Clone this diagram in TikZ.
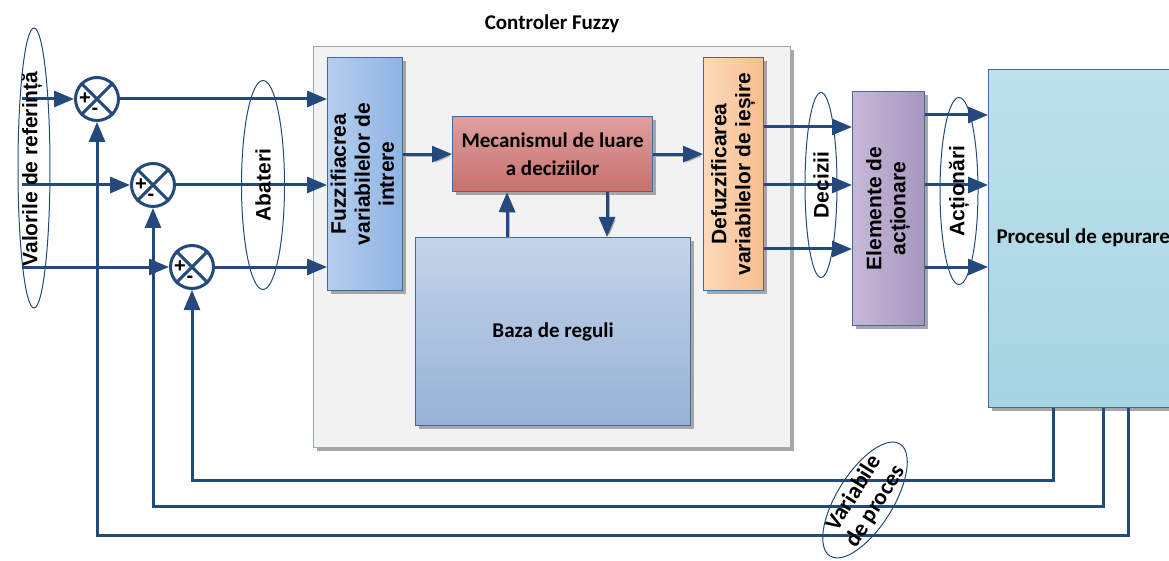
\documentclass[tikz,border=0pt]{standalone}
\usepackage{fontspec}
\setmainfont{Carlito}
\newfontfamily\vfont{Liberation Sans}
\usepackage{tikz}
\usetikzlibrary{arrows.meta,positioning,shapes.geometric,shadows}
\definecolor{fzline}{RGB}{36,73,125}
\definecolor{fzedge}{RGB}{70,105,155}
\definecolor{fzframe}{RGB}{150,170,195}
\definecolor{fzgray}{RGB}{242,242,242}
\definecolor{fuzA}{RGB}{181,206,238}
\definecolor{fuzB}{RGB}{142,180,227}
\definecolor{mecA}{RGB}{222,160,158}
\definecolor{mecB}{RGB}{200,112,110}
\definecolor{bazA}{RGB}{196,212,232}
\definecolor{bazB}{RGB}{150,177,214}
\definecolor{defA}{RGB}{252,217,186}
\definecolor{defB}{RGB}{249,190,142}
\definecolor{actA}{RGB}{198,185,216}
\definecolor{actB}{RGB}{166,150,190}
\definecolor{proA}{RGB}{190,226,235}
\definecolor{proB}{RGB}{165,212,226}
\newcommand{\uptext}[1]{\rotatebox{90}{\begin{tabular}{@{}c@{}}#1\end{tabular}}}

\begin{document}
\begin{tikzpicture}[x=1pt, y=-1pt,
  font=\fontsize{21}{25}\selectfont\bfseries,
  vtxt/.style={font=\fontsize{21}{24}\selectfont\vfont\bfseries},
  flow/.style={draw=fzline, line width=3pt, -{Triangle[length=20pt,width=16pt]}},
  inflow/.style={flow, preaction={draw=black!30, transform canvas={xshift=2pt,yshift=-2pt}}},
  wire/.style={draw=fzline, line width=3pt},
  sum/.style={circle, draw=fzline, line width=3pt, fill=white, minimum size=43pt, inner sep=0pt},
  sgn/.style={font=\fontsize{20}{20}\selectfont\vfont\bfseries, inner sep=0pt},
  blk/.style={draw=fzedge, line width=1.2pt, inner sep=0pt, anchor=north west,
    drop shadow={shadow xshift=3pt, shadow yshift=-3pt, fill=black!35, opacity=1}},
  grp/.style={ellipse, draw=fzline, line width=1pt, inner sep=0pt}]
\useasboundingbox (0,0) rectangle (1169,561);
% Fuzzy controller frame
\node[blk, draw=fzframe, fill=fzgray, minimum width=477pt, minimum height=401pt] (fz) at (313,46) {};
\node[above=10pt of fz] (title) {Controler Fuzzy};
% Blocks
\node[blk, vtxt, left color=fuzA, right color=fuzB, minimum width=75pt, minimum height=233pt] (fuz) at (327,57)
  {\uptext{Fuzzifiacrea\\variabilelor de\\intrere}};
\node[blk, top color=mecA, bottom color=mecB, minimum width=200pt, minimum height=75pt, align=center,
  font=\fontsize{21}{28}\selectfont\bfseries] (mec) at (452,116) {Mecanismul de luare\\a deciziilor};
\node[blk, top color=bazA, bottom color=bazB, minimum width=275pt, minimum height=188pt] (baz) at (415,237)
  {Baza de reguli};
\node[blk, vtxt, left color=defA, right color=defB, minimum width=60pt, minimum height=233pt] (def) at (703,57)
  {\uptext{Defuzzificarea\\variabilelor de ieșire}};
\node[blk, vtxt, left color=actA, right color=actB, minimum width=72pt, minimum height=234pt] (act) at (852,91)
  {\uptext{Elemente de\\acționare}};
\node[blk, top color=proA, bottom color=proB, minimum width=220pt, minimum height=338pt] (proc) at (988,69) {};
\node[anchor=west] (tproc) at (993,238) {Procesul de epurare};
% Summing points
\node[sum] (s1) at (97,99) {};
\node[sum] (s2) at (153,185) {};
\node[sum] (s3) at (192,267) {};
\foreach \s/\y in {1/99, 2/185, 3/267} {
  \coordinate (in\s) at (22,\y);
  \draw[flow] (in\s) -- (s\s);
  \draw[flow] (s\s) -- (fuz.west |- s\s);
  \draw[wire] (s\s.north west) -- (s\s.south east) (s\s.north east) -- (s\s.south west);
  \node[sgn] (plus\s) at ([xshift=-12pt]s\s.center) {+};
  \node[sgn] (minus\s) at ([xshift=-2pt,yshift=-12pt]s\s.center) {-};
}
% Feedback from the process
\foreach \s/\dx/\dy in {3/65/72, 2/115/98, 1/140/127}
  \draw[flow] ([xshift=\dx pt]proc.south west) -- ++(0,\dy) -| (s\s);
% Inside the controller
\draw[inflow] (fuz.east |- mec.west) -- (mec.west);
\draw[inflow] (mec.east) -- (def.west |- mec.east);
\draw[inflow] (baz.north -| 507,0) -- (mec.south -| 507,0);
\draw[inflow] (mec.south -| 607,0) -- (baz.north -| 607,0);
% Decisions and actions
\foreach \y in {127, 185, 249}
  \draw[flow] (def.east |- 0,\y) -- (act.west |- 0,\y);
\foreach \y in {115, 185, 267}
  \draw[flow] (act.east |- 0,\y) -- (proc.west |- 0,\y);
% Signal groups
\node[grp, minimum width=32pt, minimum height=280pt] (eref) at (34,168) {};
\node[vtxt, rotate=90] (tref) at (32,169) {Valorile de referință};
\node[grp, minimum width=43pt, minimum height=209pt] (eaba) at (263,185) {};
\node[vtxt, rotate=90] (taba) at (eaba) {Abateri};
\node[grp, minimum width=32pt, minimum height=185pt] (edec) at (821,185) {};
\node[vtxt, rotate=90] (tdec) at (edec) {Decizii};
\node[grp, minimum width=38pt, minimum height=187pt] (eact) at (959,191) {};
\node[vtxt, rotate=90] (tact) at (eact) {Acționări};
\node[grp, rotate=58, minimum width=132pt, minimum height=56pt] (evar) at (865,500) {};
\node[rotate=58, align=center, font=\fontsize{23}{25}\selectfont\bfseries] (tvar) at (evar) {Variabile\\de proces};
\end{tikzpicture}
\end{document}
